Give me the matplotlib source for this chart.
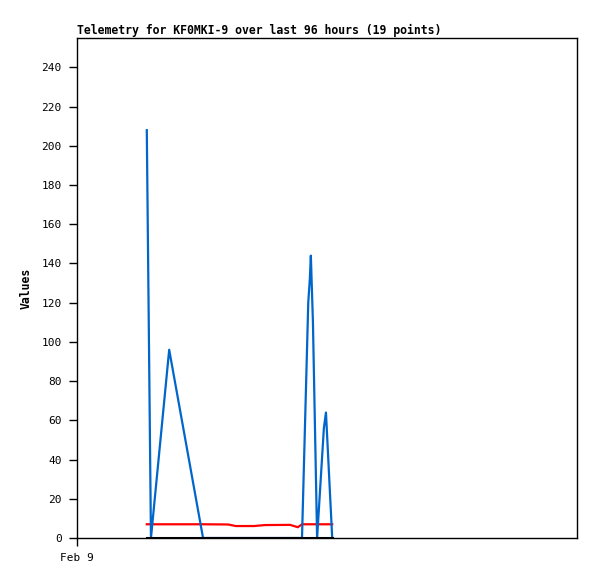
import matplotlib
matplotlib.use("Agg")
import matplotlib.pyplot as plt

# hours after Feb 9 00:00 for each telemetry sample
hours = [13.4, 14.2, 17.7, 24.2, 29.0, 30.5, 34.0, 36.1, 40.9, 42.4, 43.2,
         44.4, 44.7, 44.9, 45.3, 46.1, 47.4, 47.8, 49.0]
blue_vals = [208, 0, 96, 0, 0, 0, 0, 0, 0, 0, 0,
             120, 132, 144, 110, 0, 56, 64, 0]
red_vals = [7, 7, 7, 7, 6.9, 6.1, 6.1, 6.6, 6.7, 5.5, 7,
            7, 7, 7, 7, 7, 7, 7, 7]
black_vals = [0] * len(hours)

y_ticks = list(range(0, 241, 20))
x_tick_labels = ["Feb 9"]

plt.rcParams['font.family'] = ['DejaVu Sans Mono']

fig = plt.figure(figsize=(5.97, 5.79), dpi=100)
ax = fig.add_axes([77 / 597, 1 - 538 / 579, 500 / 597, 500 / 579])

ax.plot(hours, red_vals, color="#ff0000", lw=1.6)
ax.plot(hours, blue_vals, color="#0066cc", lw=1.6)
ax.plot(hours, black_vals, color="black", lw=2.2)

ax.set_xlim(0, 96)
ax.set_ylim(0, 255)
ax.set_yticks(y_ticks)
ax.set_xticks([0])
ax.set_xticklabels(x_tick_labels)
ax.tick_params(direction="out", length=6, width=1, labelsize=8, pad=5)
for s in ax.spines.values():
    s.set_linewidth(1)

ax.set_ylabel("Values", fontsize=8.3, fontweight="bold", labelpad=6)
ax.set_title("Telemetry for KF0MKI-9 over last 96 hours (19 points)",
             fontsize=8.3, fontweight="bold", loc="left", pad=3)

fig.savefig("out.png", dpi=100)
